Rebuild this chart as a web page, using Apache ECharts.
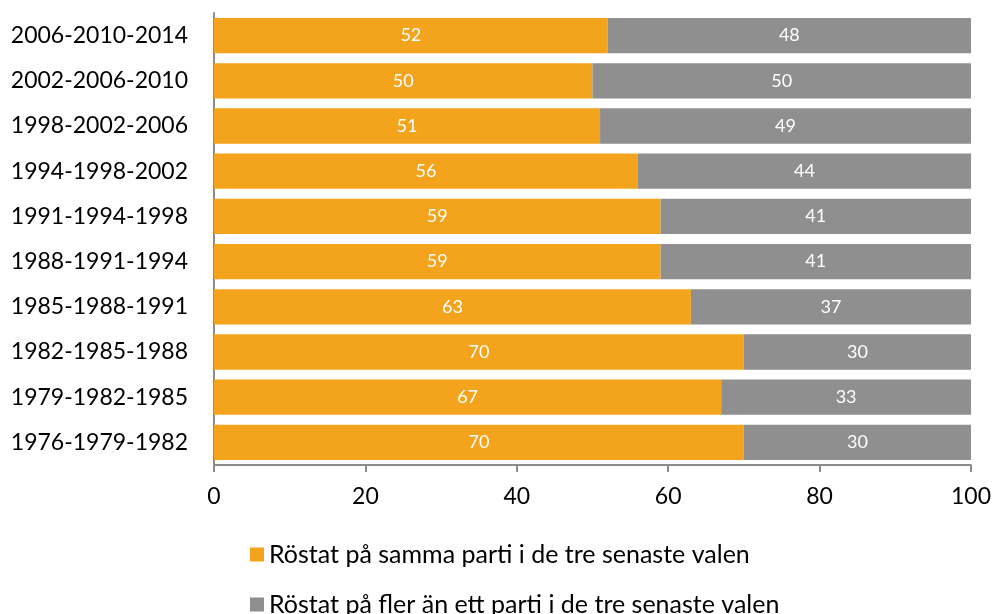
<!DOCTYPE html>
<html>
	<head>
		<meta charset="utf-8">
		<title></title>
		<script src='https://cdn.jsdelivr.net/npm/echarts@6/dist/echarts.min.js'></script>
		<style>
			body{margin:0;}
			#chart{
				width: 992px;
				height: 614px;
			}
		</style>
	</head>
	<body>
		<div id="chart"></div>
		<script>
            // bottom to top
            const categories = ['1976-1979-1982','1979-1982-1985','1982-1985-1988','1985-1988-1991','1988-1991-1994',
                '1991-1994-1998','1994-1998-2002','1998-2002-2006','2002-2006-2010','2006-2010-2014'];
            const samma = [70, 67, 70, 63, 59, 59, 56, 51, 50, 52];
            const fler = [30, 33, 30, 37, 41, 41, 44, 49, 50, 48];
            const seriesNames = ['Röstat på samma parti i de tre senaste valen','Röstat på fler än ett parti i de tre senaste valen'];

			const chart = echarts.init(document.getElementById('chart'), null, {renderer:'canvas'});
            const font = 'Lato, "Open Sans", sans-serif';
            const legendBase = {
                left:245,
                itemWidth:14,
                itemHeight:14,
                itemGap:10,
                icon:'rect',
                textStyle:{fontSize:25, color:'#000', fontFamily:font}
            };
            const option = {
                animation:false,
                textStyle:{fontFamily:font},
                grid:{left:214, right:21, top:13, bottom:149, outerBoundsMode:'none'},
                xAxis:{
                    type:'value',
                    min:0,
                    max:100,
                    interval:20,
                    axisLine:{show:true, lineStyle:{color:'#8c8c8c', width:2}},
                    axisTick:{show:true, length:7, lineStyle:{color:'#8c8c8c', width:2}},
                    splitLine:{show:false},
                    axisLabel:{color:'#000', fontSize:23, margin:20, fontFamily:font}
                },
                yAxis:{
                    type:'category',
                    data:categories,
                    axisLine:{show:true, lineStyle:{color:'#8c8c8c', width:2}},
                    axisTick:{show:false},
                    axisLabel:{color:'#000', fontSize:23, margin:26, fontFamily:font}
                },
                legend:[
                    Object.assign({top:537, data:[seriesNames[0]]}, legendBase),
                    Object.assign({top:587, data:[seriesNames[1]]}, legendBase)
                ],
                series:[
                    {
                        name:seriesNames[0],
                        type:'bar',
                        stack:'total',
                        barCategoryGap:'22%',
                        itemStyle:{color:'#F4A41C'},
                        label:{show:true, position:'inside', color:'#fff', fontSize:18, fontFamily:font},
                        data:samma
                    },
                    {
                        name:seriesNames[1],
                        type:'bar',
                        stack:'total',
                        barCategoryGap:'22%',
                        itemStyle:{color:'#8F8F90'},
                        label:{show:true, position:'inside', color:'#fff', fontSize:18, fontFamily:font},
                        data:fler
                    }
                ]
            };
			chart.setOption(option);
		</script>
	</body>
</html>
